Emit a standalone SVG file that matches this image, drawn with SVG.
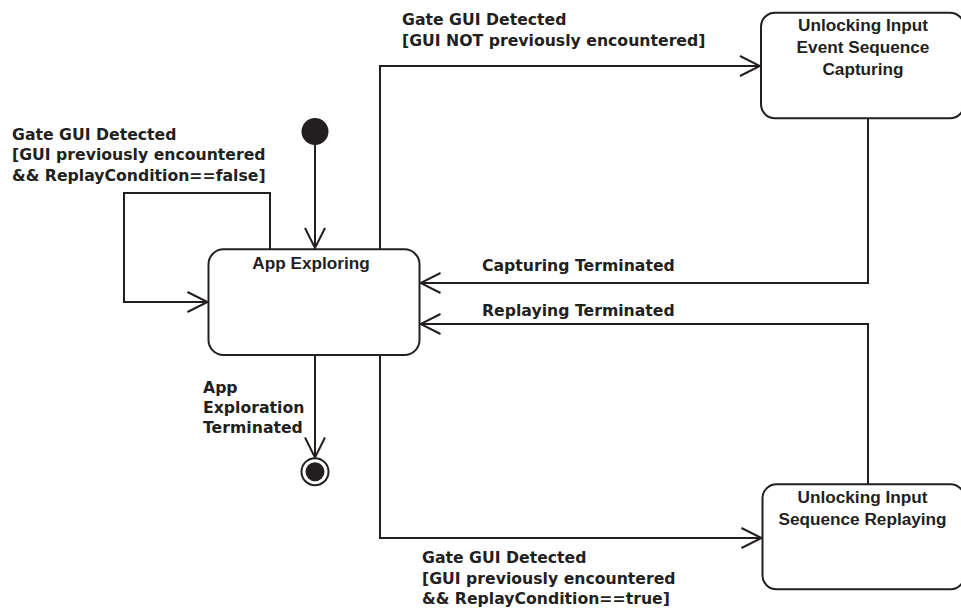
<svg xmlns="http://www.w3.org/2000/svg" width="961" height="611" viewBox="0 0 961 611">
  <style>
    .state { fill: #ffffff; stroke: #231f20; stroke-width: 2; }
    .edge { fill: none; stroke: #231f20; stroke-width: 2; marker-end: url(#open-arrow); }
    .name { font-family: "Liberation Sans", Arial, sans-serif; font-weight: bold; font-size: 17.2px; fill: #231f20; text-anchor: middle; }
    .label { font-family: "DejaVu Sans", "Liberation Sans", sans-serif; font-weight: bold; font-size: 15.7px; fill: #231f20; }
  </style>
  <defs>
    <marker id="open-arrow" viewBox="-23 -12 25 24" markerWidth="25" markerHeight="24" refX="0" refY="0" orient="auto" markerUnits="userSpaceOnUse">
      <path d="M-20,-10 L0,0 L-20,10" fill="none" stroke="#231f20" stroke-width="2"/>
    </marker>
  </defs>

  <rect width="961" height="611" fill="#ffffff"/>

  <!-- transitions -->
  <g id="connectors">
    <path class="edge" d="M315,145 L315,248"/>
    <path class="edge" d="M270,249 L270,193 L124,193 L124,302 L207.5,302"/>
    <path class="edge" d="M380,249 L380,66 L760,66"/>
    <path class="edge" d="M380,355 L380,538 L761.5,538"/>
    <path class="edge" d="M868,118 L868,283 L420.5,283"/>
    <path class="edge" d="M868,484 L868,324 L420.5,324"/>
    <path class="edge" d="M315,355 L315,457.5"/>
  </g>

  <!-- transition labels -->
  <g id="labels">
    <text class="label" x="402" y="25">Gate GUI Detected</text>
    <text class="label" x="402" y="45.5">[GUI NOT previously encountered]</text>

    <text class="label" x="12" y="139.5">Gate GUI Detected</text>
    <text class="label" x="12" y="160">[GUI previously encountered</text>
    <text class="label" x="12" y="180.5">&amp;&amp; ReplayCondition==false]</text>

    <text class="label" x="482" y="271">Capturing Terminated</text>
    <text class="label" x="482" y="316">Replaying Terminated</text>

    <text class="label" x="203" y="392.5">App</text>
    <text class="label" x="203" y="412.5">Exploration</text>
    <text class="label" x="203" y="432.5">Terminated</text>

    <text class="label" x="422" y="563">Gate GUI Detected</text>
    <text class="label" x="422" y="583.5">[GUI previously encountered</text>
    <text class="label" x="422" y="604">&amp;&amp; ReplayCondition==true]</text>
  </g>

  <!-- pseudo states -->
  <g id="initial">
    <circle cx="315" cy="131.5" r="13.5" fill="#231f20"/>
  </g>
  <g id="final">
    <circle cx="315" cy="471.7" r="13.5" fill="#ffffff" stroke="#231f20" stroke-width="2"/>
    <circle cx="315" cy="471.7" r="9.5" fill="#231f20"/>
  </g>

  <!-- states -->
  <g id="app-exploring">
    <rect class="state" x="208.5" y="249.3" width="211" height="105.7" rx="15"/>
    <text class="name" x="311" y="268.5">App Exploring</text>
  </g>

  <g id="capturing">
    <rect class="state" x="761" y="12.7" width="203" height="105.6" rx="14"/>
    <text class="name" x="863" y="31">Unlocking Input</text>
    <text class="name" x="863" y="53">Event Sequence</text>
    <text class="name" x="863" y="74.5">Capturing</text>
  </g>

  <g id="replaying">
    <rect class="state" x="762.5" y="484.3" width="202" height="105" rx="14"/>
    <text class="name" x="862.5" y="503.3">Unlocking Input</text>
    <text class="name" x="862.5" y="524.5">Sequence Replaying</text>
  </g>
</svg>
